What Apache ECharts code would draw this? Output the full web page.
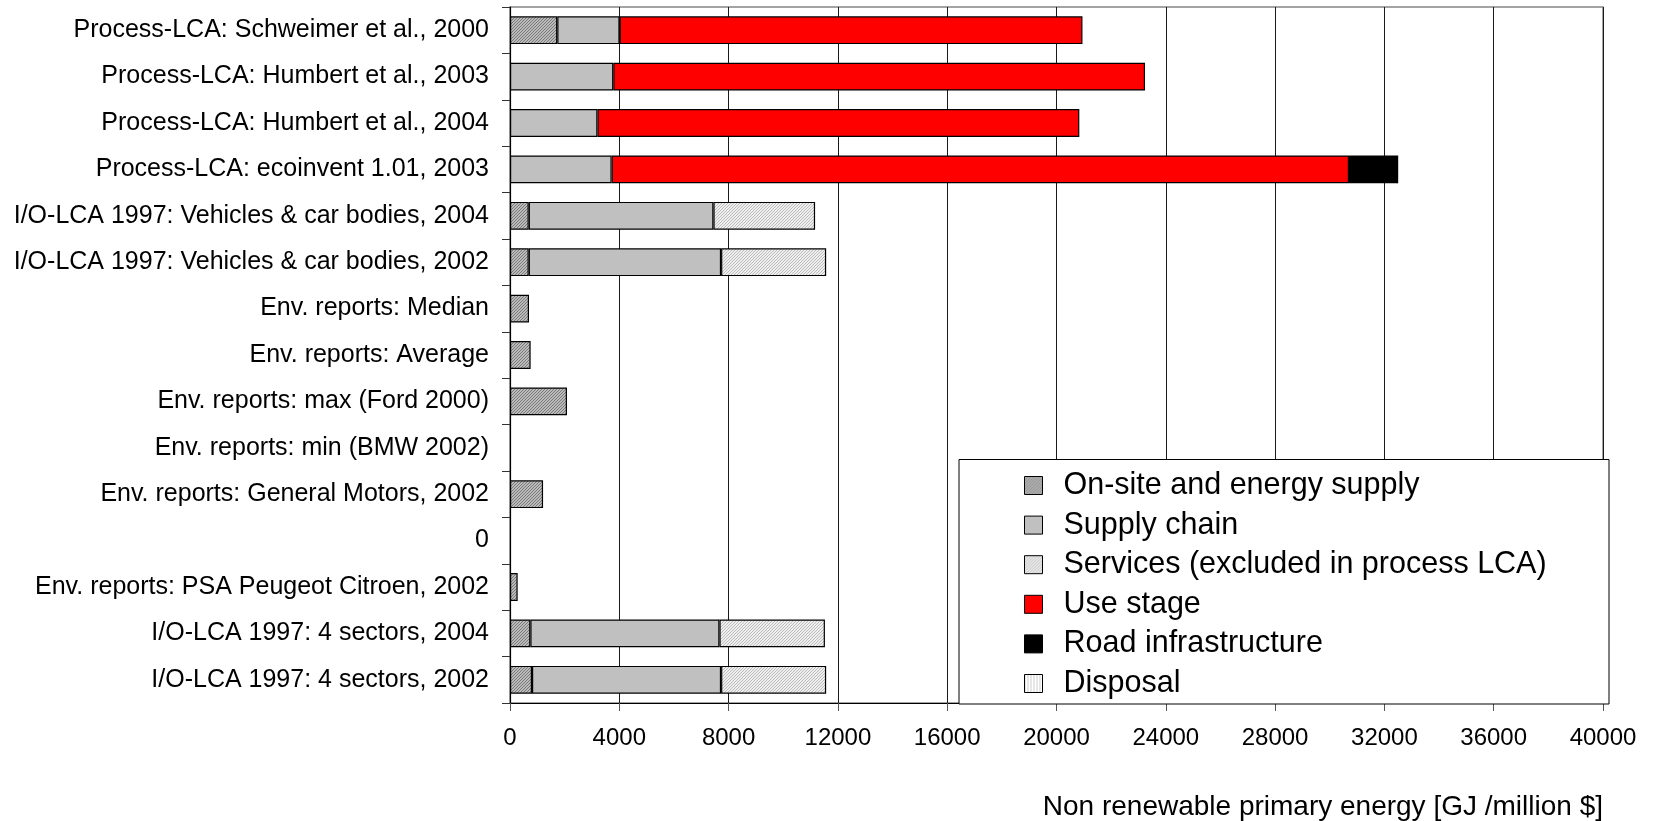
<!DOCTYPE html>
<html>
<head>
<meta charset="utf-8">
<script src="https://cdn.jsdelivr.net/npm/echarts@6/dist/echarts.min.js"></script>
<style>
  html, body { margin: 0; padding: 0; background: #fff; }
  #chart { width: 1654px; height: 821px; }
</style>
</head>
<body>
<div id="chart"></div>
<script>
// Study / source labels, top to bottom
const categories = [
  'Process-LCA: Schweimer et al., 2000',
  'Process-LCA: Humbert et al., 2003',
  'Process-LCA: Humbert et al., 2004',
  'Process-LCA: ecoinvent 1.01, 2003',
  'I/O-LCA 1997: Vehicles & car bodies, 2004',
  'I/O-LCA 1997: Vehicles & car bodies, 2002',
  'Env. reports: Median',
  'Env. reports: Average',
  'Env. reports: max (Ford 2000)',
  'Env. reports: min (BMW 2002)',
  'Env. reports: General Motors, 2002',
  '0',
  'Env. reports: PSA Peugeot Citroen, 2002',
  'I/O-LCA 1997: 4 sectors, 2004',
  'I/O-LCA 1997: 4 sectors, 2002'
];

// Non renewable primary energy, GJ per million $ (null = no contribution)
const onSite   = [1730, null, null, null, 685, 685, 695, 755, 2085, null, 1210, null, 280, 745, 805];
const supply   = [2280, 3780, 3200, 3720, 6760, 7040, null, null, null, null, null, null, null, 6920, 6920];
const services = [null, null, null, null, 3720, 3845, null, null, null, null, null, null, null, 3860, 3845];
const useStage = [16940, 19460, 17635, 26985, null, null, null, null, null, null, null, null, null, null, null];
const road     = [null, null, null, 1720, null, null, null, null, null, null, null, null, null, null, null];
const disposal = [null, null, null, 80, null, null, null, null, null, null, null, null, null, null, null];

const seriesNames = [
  'On-site and energy supply',
  'Supply chain',
  'Services (excluded in process LCA)',
  'Use stage',
  'Road infrastructure',
  'Disposal'
];

const xTicks = { min: 0, max: 40000, interval: 4000 };

// Small repeating tiles for hatched fills
function tile(bg, fg, step, vertical) {
  const c = document.createElement('canvas');
  c.width = step; c.height = step;
  const g = c.getContext('2d');
  g.fillStyle = bg; g.fillRect(0, 0, step, step);
  g.fillStyle = fg;
  for (let x = 0; x < step; x++) {
    for (let y = 0; y < step; y++) {
      const on = vertical ? (x === 0) : ((x + y) % step === 0);
      if (on) g.fillRect(x, y, 1, 1);
    }
  }
  return { image: c, repeat: 'repeat' };
}

const fills = [
  tile('#bababa', '#7a7a7a', 3, false),
  '#c0c0c0',
  tile('#eeeeee', '#bdbdbd', 3, false),
  '#ff0000',
  '#000000',
  tile('#ffffff', '#cfcfcf', 3, true)
];

const dataSets = [onSite, supply, services, useStage, road, disposal];

const font = 'Liberation Sans, Arial, Helvetica, sans-serif';

const chart = echarts.init(document.getElementById('chart'), null, { renderer: 'canvas' });

chart.setOption({
  backgroundColor: '#ffffff',
  animation: false,
  textStyle: { fontFamily: font, color: '#000' },
  title: {
    text: 'Non renewable primary energy [GJ /million $]',
    right: 51,
    top: 793,
    padding: 0,
    textStyle: { fontFamily: font, fontSize: 28, lineHeight: 28, fontWeight: 'normal', color: '#000' }
  },
  grid: {
    left: 510, right: 51, top: 7, bottom: 118,
    show: true, borderColor: '#858585', borderWidth: 1.5, backgroundColor: 'transparent'
  },
  xAxis: {
    type: 'value',
    min: xTicks.min, max: xTicks.max, interval: xTicks.interval,
    axisLine: { show: true, lineStyle: { color: '#000', width: 1.2 } },
    axisTick: { show: true, length: 8, lineStyle: { color: '#555' } },
    axisLabel: {
      fontSize: 24, color: '#000', margin: 23, fontFamily: font,
      formatter: v => String(v)
    },
    splitLine: { show: true, lineStyle: { color: '#1a1a1a', width: 1 } }
  },
  yAxis: {
    type: 'category',
    inverse: true,
    data: categories,
    axisLine: { show: true, lineStyle: { color: '#000', width: 1.2 } },
    axisTick: { show: true, length: 8, lineStyle: { color: '#333' } },
    axisLabel: { fontSize: 25, color: '#000', margin: 21, fontFamily: font },
    splitLine: { show: false }
  },
  legend: {
    orient: 'vertical',
    left: 1024,
    top: 470,
    padding: 0,
    itemWidth: 18,
    itemHeight: 18,
    itemGap: 8.6,
    icon: 'rect',
    data: seriesNames,
    itemStyle: { borderColor: '#000', borderWidth: 1 },
    textStyle: { fontSize: 30.5, lineHeight: 30, color: '#000', fontFamily: font, padding: [0, 0, 0, 16] },
    selectedMode: false,
    z: 5
  },
  graphic: [{
    type: 'rect',
    z: 4,
    shape: { x: 959, y: 459.5, width: 650, height: 244.5 },
    style: { fill: '#ffffff', stroke: '#000', lineWidth: 1 }
  }],
  series: seriesNames.map((name, i) => ({
    name,
    type: 'bar',
    stack: 'total',
    barCategoryGap: '40%',
    data: dataSets[i],
    itemStyle: { color: fills[i], borderColor: '#000', borderWidth: 1.2 },
    emphasis: { disabled: true }
  }))
});
</script>
</body>
</html>
